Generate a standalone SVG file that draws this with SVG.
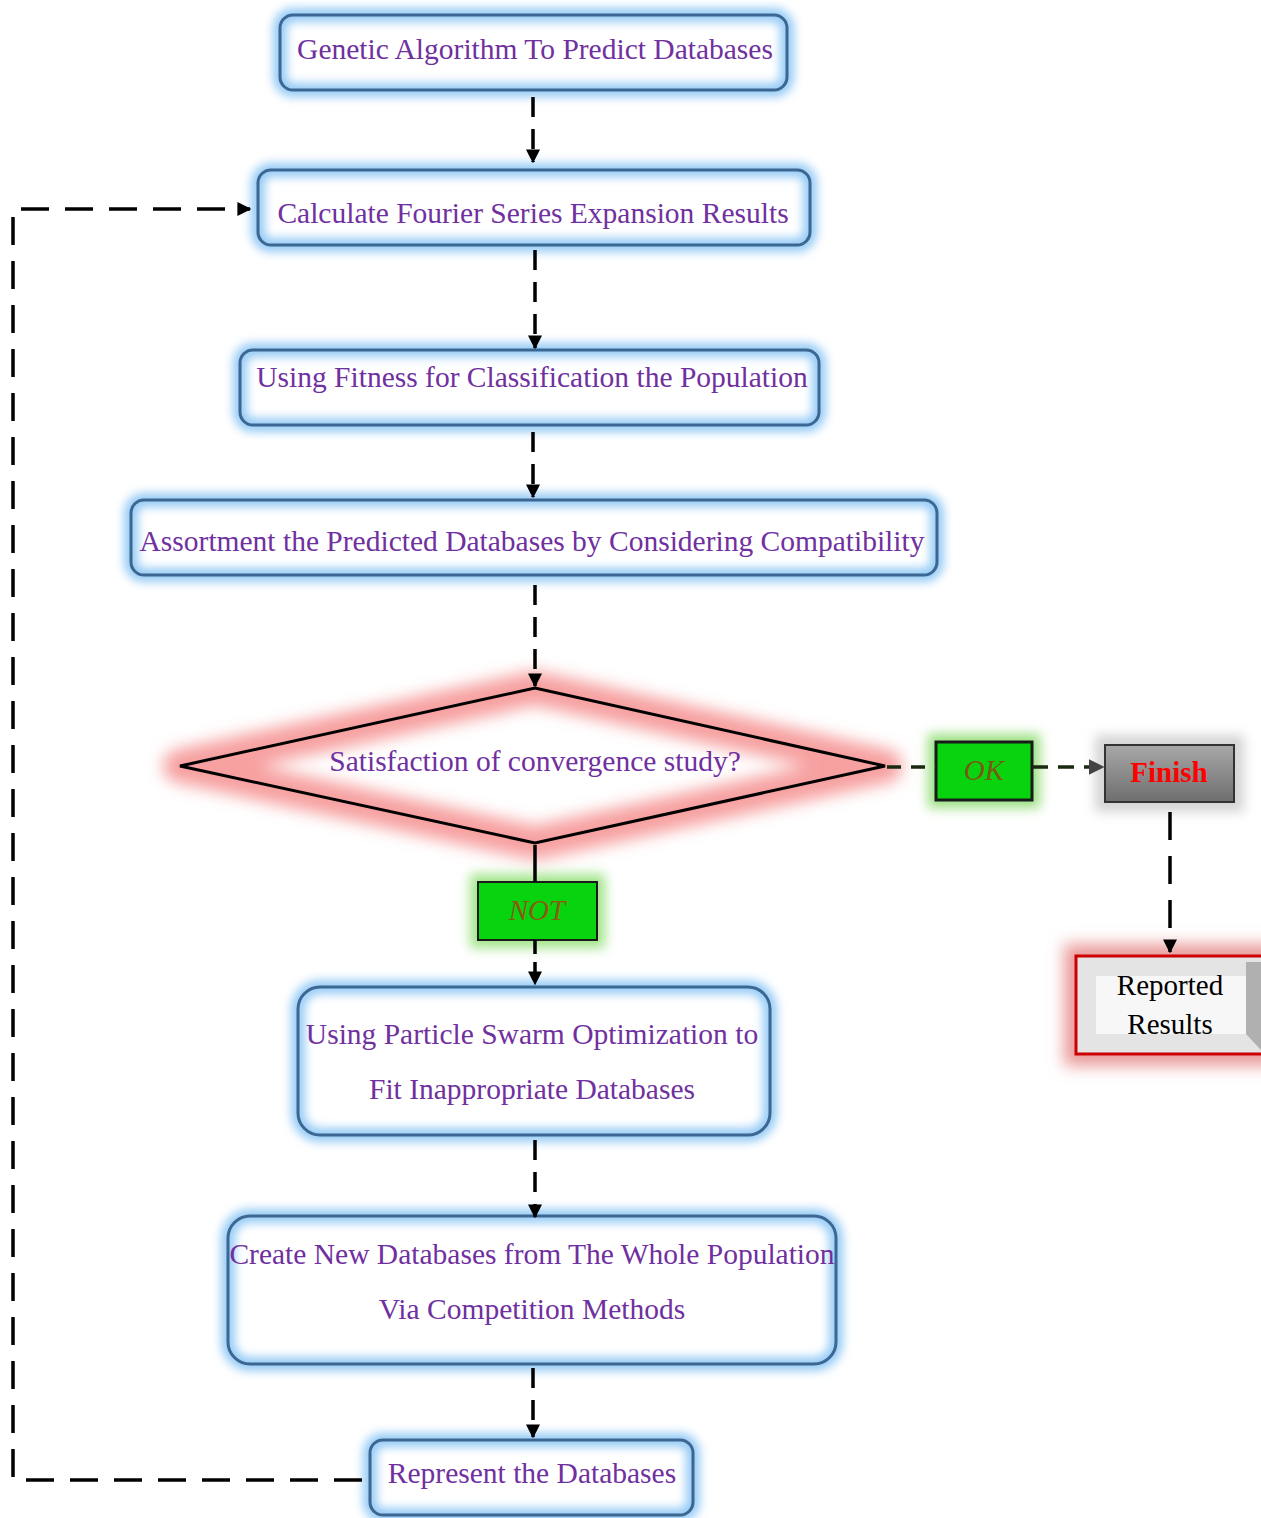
<svg xmlns="http://www.w3.org/2000/svg" width="1261" height="1518" viewBox="0 0 1261 1518">
<defs>
<style>
.fill{fill:#fff}
.box{fill:none;stroke:#3b6792;stroke-width:3}
.glow{fill:none;stroke:#95cbf6;stroke-width:14}
.t{font-family:"Liberation Serif","Times New Roman",serif;font-size:29.5px;fill:#7030a0;text-anchor:middle}
.c{fill:none;stroke:#000;stroke-width:3.5;stroke-dasharray:20 12}
.l{fill:none;stroke:#000;stroke-width:3.5;stroke-dasharray:28 16}
</style>
<filter id="bg" x="-10%" y="-30%" width="120%" height="160%"><feGaussianBlur stdDeviation="5"/></filter>
<filter id="rg" x="-10%" y="-30%" width="120%" height="160%"><feGaussianBlur stdDeviation="8"/></filter>
<filter id="gg" x="-30%" y="-40%" width="160%" height="180%"><feGaussianBlur stdDeviation="6"/></filter>
<marker id="a" viewBox="0 0 10 10" refX="9" refY="5" markerWidth="4" markerHeight="4" orient="auto" markerUnits="strokeWidth"><path d="M0,0 L10,5 L0,10 z" fill="#000"/></marker>
<marker id="ag" viewBox="0 0 10 10" refX="9" refY="5" markerWidth="4.5" markerHeight="4.5" orient="auto" markerUnits="strokeWidth"><path d="M0,0 L10,5 L0,10 z" fill="#444"/></marker>
<linearGradient id="fin" x1="0" y1="0" x2="0" y2="1"><stop offset="0" stop-color="#a8a8a8"/><stop offset="1" stop-color="#6e6e6e"/></linearGradient>
</defs>

<g id="n1">
<rect class="fill" x="280" y="15" width="507" height="75" rx="13"/>
<rect class="glow" x="280" y="15" width="507" height="75" rx="13" filter="url(#bg)"/>
<rect class="box" x="280" y="15" width="507" height="75" rx="13"/>
<text class="t" x="535" y="59">Genetic Algorithm To Predict Databases</text>
</g>
<g id="n2">
<rect class="fill" x="258" y="170" width="552" height="75" rx="13"/>
<rect class="glow" x="258" y="170" width="552" height="75" rx="13" filter="url(#bg)"/>
<rect class="box" x="258" y="170" width="552" height="75" rx="13"/>
<text class="t" x="533" y="223">Calculate Fourier Series Expansion Results</text>
</g>
<g id="n3">
<rect class="fill" x="240" y="350" width="579" height="75" rx="13"/>
<rect class="glow" x="240" y="350" width="579" height="75" rx="13" filter="url(#bg)"/>
<rect class="box" x="240" y="350" width="579" height="75" rx="13"/>
<text class="t" x="532" y="387">Using Fitness for Classification the Population</text>
</g>
<g id="n4">
<rect class="fill" x="131" y="500" width="806" height="75" rx="13"/>
<rect class="glow" x="131" y="500" width="806" height="75" rx="13" filter="url(#bg)"/>
<rect class="box" x="131" y="500" width="806" height="75" rx="13"/>
<text class="t" x="532" y="551">Assortment the Predicted Databases by Considering Compatibility</text>
</g>
<g id="n5">
<polygon points="180,766 535,688 885,766 535,843" fill="#fff"/>
<polygon points="180,766 535,688 885,766 535,843" fill="none" stroke="#f7a0a0" stroke-width="34" stroke-linejoin="round" filter="url(#rg)"/>
<polygon points="180,766 535,688 885,766 535,843" fill="none" stroke="#000" stroke-width="3"/>
<text class="t" x="535" y="771">Satisfaction of convergence study?</text>
</g>
<g id="n6">
<rect x="928" y="734" width="112" height="74" fill="#9ae080" filter="url(#gg)"/>
<rect x="936" y="742" width="96" height="58" fill="#07d40f" stroke="#1a1a1a" stroke-width="3"/>
<text x="984" y="780" font-family="Liberation Serif,serif" font-size="29" font-style="italic" fill="#7a5a10" text-anchor="middle">OK</text>
</g>
<g id="n7">
<rect x="1095" y="735" width="149" height="77" fill="#d4d4d4" filter="url(#gg)"/>
<rect x="1105" y="745" width="129" height="57" fill="url(#fin)" stroke="#333" stroke-width="2"/>
<text x="1169" y="782" font-family="Liberation Serif,serif" font-size="29" font-weight="bold" fill="#f00" text-anchor="middle">Finish</text>
</g>
<g id="n8">
<rect x="470" y="874" width="135" height="74" fill="#a0e488" filter="url(#gg)"/>
<rect x="478" y="882" width="119" height="58" fill="#07d40f" stroke="#1a1a1a" stroke-width="2"/>
<text x="537" y="920" font-family="Liberation Serif,serif" font-size="29" font-style="italic" fill="#8a5a10" text-anchor="middle">NOT</text>
</g>
<g id="n9">
<rect x="1064" y="944" width="220" height="122" fill="#ea9a9a" filter="url(#rg)"/>
<rect x="1076" y="956" width="200" height="98" fill="#e4e4e4" stroke="#c00" stroke-width="3"/>
<polygon points="1096,976 1246,976 1246,1034 1096,1034" fill="#f7f7f7"/>
<polygon points="1246,962 1261,962 1261,1050 1246,1034 1246,976" fill="#b0b0b0"/>
<text x="1170" y="995" font-family="Liberation Serif,serif" font-size="29" fill="#000" text-anchor="middle">Reported</text>
<text x="1170" y="1034" font-family="Liberation Serif,serif" font-size="29" fill="#000" text-anchor="middle">Results</text>
</g>
<g id="n10">
<rect class="fill" x="298" y="987" width="472" height="148" rx="22"/>
<rect class="glow" x="298" y="987" width="472" height="148" rx="22" filter="url(#bg)"/>
<rect class="box" x="298" y="987" width="472" height="148" rx="22"/>
<text class="t" x="532" y="1044">Using Particle Swarm Optimization to</text>
<text class="t" x="532" y="1099">Fit Inappropriate Databases</text>
</g>
<g id="n11">
<rect class="fill" x="228" y="1216" width="608" height="148" rx="22"/>
<rect class="glow" x="228" y="1216" width="608" height="148" rx="22" filter="url(#bg)"/>
<rect class="box" x="228" y="1216" width="608" height="148" rx="22"/>
<text class="t" x="532" y="1264">Create New Databases from The Whole Population</text>
<text class="t" x="532" y="1319">Via Competition Methods</text>
</g>
<g id="n12">
<rect class="fill" x="370" y="1440" width="323" height="75" rx="13"/>
<rect class="glow" x="370" y="1440" width="323" height="75" rx="13" filter="url(#bg)"/>
<rect class="box" x="370" y="1440" width="323" height="75" rx="13"/>
<text class="t" x="532" y="1483">Represent the Databases</text>
</g>

<g id="connectors">
<path class="c" d="M533,97 V162" marker-end="url(#a)"/>
<path class="c" d="M535,250 V348" marker-end="url(#a)"/>
<path class="c" d="M533,432 V497" marker-end="url(#a)"/>
<path class="c" d="M535,585 V686" marker-end="url(#a)"/>
<path fill="none" stroke="#000" stroke-width="3.5" d="M535,845 V882"/>
<path fill="none" stroke="#000" stroke-width="3.5" stroke-dasharray="14 8" d="M535,940 V984" marker-end="url(#a)"/>
<path fill="none" stroke="#1a2a10" stroke-width="3.5" stroke-dasharray="14 10" d="M887,767 H936"/>
<path fill="none" stroke="#1a2a10" stroke-width="3.5" stroke-dasharray="16 10" d="M1032,767 H1103" marker-end="url(#ag)"/>
<path class="l" d="M1170,812 V952" marker-end="url(#a)"/>
<path class="c" d="M535,1140 V1217" marker-end="url(#a)"/>
<path class="c" d="M533,1368 V1437" marker-end="url(#a)"/>
<path class="l" d="M362,1480 H13 V209 H250" marker-end="url(#a)"/>
</g>
</svg>
